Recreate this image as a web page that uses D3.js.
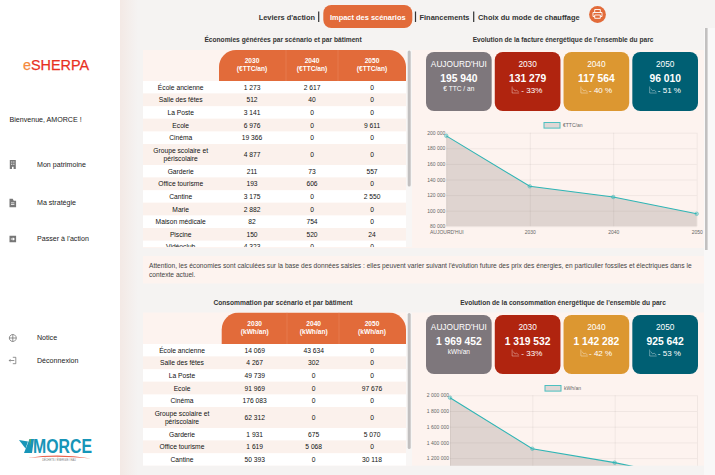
<!DOCTYPE html>
<html lang="fr">
<head>
<meta charset="utf-8">
<title>eSHERPA - Impact des scénarios</title>
<script src="https://d3js.org/d3.v7.min.js"></script>
<style>
  html, body { margin: 0; padding: 0; background: #f5f3f2; overflow: hidden; }
  svg { display: block; font-family: "Liberation Sans", Arial, sans-serif; }
  .axis path { display: none; }
  .axis text { font-family: "Liberation Sans", Arial, sans-serif; font-size: 5px; fill: #666; }
  .axis line { stroke: #000; stroke-opacity: 0.08; stroke-width: 0.7; }
</style>
</head>
<body>
<script>
const buildingsCost = ["École ancienne", "Salle des fêtes", "La Poste", "Ecole", "Cinéma", "Groupe scolaire et|périscolaire", "Garderie", "Office tourisme", "Cantine", "Marie", "Maison médicale", "Piscine", "Vidéoclub"];
const cost2030 = [1273, 512, 3141, 6976, 19366, 4877, 211, 193, 3175, 2882, 82, 150, 4323];
const cost2040 = [2617, 40, 0, 0, 0, 0, 73, 606, 0, 0, 754, 520, 0];
const cost2050 = [0, 0, 0, 9611, 0, 0, 557, 0, 2550, 0, 0, 24, 0];

const buildingsEnergy = ["École ancienne", "Salle des fêtes", "La Poste", "Ecole", "Cinéma", "Groupe scolaire et|périscolaire", "Garderie", "Office tourisme", "Cantine"];
const energy2030 = [14069, 4267, 49739, 91969, 176083, 62312, 1931, 1619, 50393];
const energy2040 = [43634, 302, 0, 0, 0, 0, 675, 5068, 0];
const energy2050 = [0, 0, 0, 97676, 0, 0, 5070, 0, 30118];

// Line chart series.
const periods = ["AUJOURD'HUI", "2030", "2040", "2050"];
const costSeries = [195940, 131279, 117564, 96010];
const energySeries = [1969452, 1319532, 1142282, 925642];

// Summary cards.
const cardColors = ["#7e777c", "#b0240f", "#dc9731", "#005f73"];
const costDrops = ["€ TTC / an", "- 33%", "- 40 %", "- 51 %"];
const energyDrops = ["kWh/an", "- 33%", "- 42 %", "- 53 %"];

const orange = "#e26b3a";
const pink = "#fdf3ef";
const teal = "#2fb5b5";
const fr = d3.formatLocale({ decimal: ",", thousands: " ", grouping: [3], currency: ["", "€"] });
const num = fr.format(",d");

const svg = d3.select("body").append("svg").attr("width", 715).attr("height", 475);

// Page background and sidebar.
const grad = svg.append("defs").append("linearGradient").attr("id", "side");
grad.append("stop").attr("offset", 0).attr("stop-color", "#f3e9e5");
grad.append("stop").attr("offset", 1).attr("stop-color", "#f5f3f2");
svg.append("rect").attr("width", 715).attr("height", 475).attr("fill", "#f5f3f2");
svg.append("rect").attr("x", 120).attr("width", 18).attr("height", 475).attr("fill", "url(#side)");
svg.append("rect").attr("width", 120).attr("height", 475).attr("fill", "#fff");
svg.append("rect").attr("x", 704).attr("y", 28).attr("width", 11).attr("height", 447).attr("fill", "#f9f8f8");
svg.append("rect").attr("x", 705).attr("y", 28).attr("width", 2.6).attr("height", 222).attr("fill", "#c2c0c0");

function label(g, x, y, txt, size, color, weight, anchor) {
  return g.append("text").attr("x", x).attr("y", y).text(txt)
    .attr("font-size", size).attr("fill", color)
    .attr("font-weight", weight || "normal").attr("text-anchor", anchor || "start");
}

// Sidebar content.
const side = svg.append("g");
const logo = label(side, 23, 70, "", 14.4, "#e8301f");
logo.attr("stroke", "#e8301f").attr("stroke-width", 0.25);
logo.append("tspan").attr("fill", "#f58a3c").attr("stroke", "#f58a3c").text("e");
logo.append("tspan").text("SHERPA");
label(side, 9.5, 121.5, "Bienvenue, AMORCE !", 7.1, "#222");

const menuLabels = ["Mon patrimoine", "Ma stratégie", "Passer à l'action", "Notice", "Déconnexion"];
const menuY = [164.5, 203, 239, 338, 360.5];
const menuIcons = [
  "M-3-4.500h6v9h-6z M-1.600-3h1.100v1.100h-1.100z M.5-3h1.100v1.100h-1.100z M-1.600-.8h1.100v1.100h-1.100z M.5-.8h1.100v1.100h-1.100z M-.8 2.300h1.600v2.200h-1.600z",
  "M-3.300-4.300h3.200l1 2h2.400v6.600h-6.600z M-1.800-.5h3.400v.8h-3.400z M-1.800 1.300h3.400v.8h-3.400z",
  "M-3.300-3.300h6.600v6.600h-6.600z M-2 -.4h2v-1.300l2.200 1.700-2.200 1.700v-1.300h-2z",
  "M0-3.500a3.500 3.500 0 1 0 .01 0z M-3.500 0h7 M0-3.500v7",
  "M0-3.200h3v6.400h-3 M1.500 0h-5 M-2.300-1.300l-1.300 1.300 1.300 1.300"
];
menuLabels.forEach((m, i) => {
  label(side, 37, menuY[i] + 2.4, m, 7.1, "#222");
  side.append("path").attr("d", menuIcons[i])
    .attr("transform", `translate(12.8,${menuY[i]})`)
    .attr("fill", i < 3 ? "#777" : "none").attr("fill-rule", "evenodd")
    .attr("stroke", i < 3 ? "none" : "#666").attr("stroke-width", 0.7);
});

// Partner logo.
label(side, 33, 453.3, "MORCE", 19.5, "#1795b8", "bold").attr("textLength", 59).attr("lengthAdjust", "spacingAndGlyphs");
side.append("path").attr("d", "M19 440l9 1.500-2.500 7z").attr("fill", "#1795b8");
side.append("path").attr("d", "M24 453l5.500-14 4.500 0-2 14z").attr("fill", "#1795b8");
side.append("path").attr("d", "M29.500 439l1.500 0-1 7z").attr("fill", "#6fb04a");
side.append("path").attr("d", "M28 458q30-5 63 .5q-32-3-63-.5z").attr("fill", "#e9604b");
label(side, 59, 460.8, "DÉCHETS / ÉNERGIE / EAU", 2.6, "#777", "normal", "middle");

// Top navigation.
const nav = svg.append("g");
label(nav, 258.7, 19.6, "Leviers d'action", 7.45, "#333", "bold");
nav.append("rect").attr("x", 323.3).attr("y", 5).attr("width", 89).attr("height", 23).attr("rx", 8).attr("fill", orange);
label(nav, 367.8, 19.6, "Impact des scénarios", 7.45, "#fff", "bold", "middle");
label(nav, 419.5, 19.6, "Financements", 7.45, "#333", "bold");
label(nav, 478, 19.6, "Choix du mode de chauffage", 7.45, "#333", "bold");
[318.7, 415.5, 473.7].forEach(x => nav.append("rect").attr("x", x - 0.6).attr("y", 11.5).attr("width", 1.2).attr("height", 10.5).attr("fill", "#333"));
nav.append("circle").attr("cx", 597.5).attr("cy", 14.5).attr("r", 8.4).attr("fill", orange);
nav.append("path").attr("d", "M594.700 12.500v-3h5.600v3 M593 12.500h9v4h-1.700 M594.700 16.500h-1.700v-4 M594.700 15h5.600v3.300h-5.600z")
  .attr("fill", "none").attr("stroke", "#fff").attr("stroke-width", 0.9);

// Section panels.
svg.append("rect").attr("x", 143).attr("y", 50).attr("width", 561).attr("height", 198).attr("fill", pink);
svg.append("rect").attr("x", 143).attr("y", 256).attr("width", 561).attr("height", 27.5).attr("fill", pink);
svg.append("rect").attr("x", 143).attr("y", 312.5).attr("width", 561).attr("height", 153.2).attr("fill", pink);

label(svg, 149, 268, "Attention, les économies sont calculées sur la base des données saisies : elles peuvent varier suivant l'évolution future des prix des énergies, en particulier fossiles et électriques dans le", 6.64, "#444");
label(svg, 149, 276.5, "contexte actuel.", 6.64, "#444");

// Draws one scenario table. Rows are clipped at the panel bottom as in a scrolling div.
function drawTable(opts) {
  const g = svg.append("g").attr("clip-path", `url(#${opts.id})`);
  svg.select("defs").append("clipPath").attr("id", opts.id).append("rect")
    .attr("x", 143).attr("y", opts.top).attr("width", 263).attr("height", opts.bottom - opts.top);

  const x0 = opts.colX[0], x3 = opts.colX[3], r = 17, h = opts.head;
  g.append("path").attr("fill", orange)
    .attr("d", `M${x0} ${opts.top + h}V${opts.top + r}a${r} ${r} 0 0 1 ${r} -${r}H${x3 - r}a${r} ${r} 0 0 1 ${r} ${r}V${opts.top + h}z`);
  [opts.colX[1], opts.colX[2]].forEach(x => g.append("line")
    .attr("x1", x).attr("x2", x).attr("y1", opts.top).attr("y2", opts.top + h)
    .attr("stroke", "#e98a62").attr("stroke-width", 0.5));

  ["2030", "2040", "2050"].forEach((year, i) => {
    const cx = opts.centers[i];
    label(g, cx, opts.top + 13, year, 6.6, "#fff", "bold", "middle");
    label(g, cx, opts.top + 21.2, opts.unit, 6.6, "#fff", "bold", "middle");
  });

  let y = opts.top + h;
  opts.names.forEach((name, i) => {
    const lines = name.split("|");
    const rowH = lines.length > 1 ? 21 : 12.6;
    g.append("rect").attr("x", 143).attr("y", y).attr("width", 263).attr("height", rowH)
      .attr("fill", i % 2 === 0 ? "#fff" : "#fbf1ec");
    const mid = y + rowH / 2 + 2.4;
    lines.forEach((t, k) => label(g, opts.nameX, mid + (k - (lines.length - 1) / 2) * 8, t, 6.7, "#111", "normal", "middle"));
    opts.values.forEach((col, c) => {
      label(g, opts.centers[c], mid, num(col[i]), 6.7, "#111", "normal", "middle");
    });
    y += rowH;
  });

  svg.append("rect").attr("x", 406).attr("y", opts.top).attr("width", 6).attr("height", opts.bottom - opts.top).attr("fill", "#f8f6f5");
  svg.append("rect").attr("x", 407.7).attr("y", opts.top + 0.5).attr("width", 3).attr("height", opts.barH).attr("rx", 1.5).attr("fill", "#c2c0c0");
}

label(svg, 283, 41.8, "Économies générées par scénario et par bâtiment", 6.65, "#333", "bold", "middle");
drawTable({
  id: "clipCost", top: 50, bottom: 247, head: 31, unit: "(€TTC/an)",
  colX: [219, 286, 338, 406],
  centers: [252, 312, 372], nameX: 180.7, names: buildingsCost,
  values: [cost2030, cost2040, cost2050], barH: 136
});

label(svg, 283, 305, "Consommation par scénario et par bâtiment", 6.65, "#333", "bold", "middle");
drawTable({
  id: "clipEnergy", top: 312.5, bottom: 465.7, head: 31.5, unit: "(kWh/an)",
  colX: [221.7, 287, 339, 406],
  centers: [254.7, 313.7, 372], nameX: 182, names: buildingsEnergy,
  values: [energy2030, energy2040, energy2050], barH: 136
});

// Summary cards row.
function drawCards(top, series, drops) {
  const cardX = d3.scaleBand().domain(periods).range([426, 698]).paddingInner(0.045);
  const g = svg.append("g");
  periods.forEach((p, i) => {
    const x = cardX(p), w = cardX.bandwidth(), cx = x + w / 2;
    g.append("rect").attr("x", x).attr("y", top).attr("width", w).attr("height", 59).attr("rx", 8).attr("fill", cardColors[i]);
    label(g, cx, top + 14.5, p, 8.3, "#fff", "normal", "middle");
    label(g, cx, top + 30, num(series[i]), 10.3, "#fff", "bold", "middle");
    if (i === 0) {
      label(g, cx, top + 38.8, drops[i], 6.6, "#fff", "normal", "middle");
    } else {
      label(g, cx + 4.2, top + 40.5, drops[i], 8, "#fff", "normal", "middle");
      const ix = cx - 15.5, iy = top + 34.5;
      g.append("path").attr("d", `M${ix} ${iy}v6.500h7 M${ix + 1} ${iy + 2}l2 2.500 1.500-1 2 2`)
        .attr("fill", "none").attr("stroke", "#fff").attr("stroke-opacity", 0.75).attr("stroke-width", 0.5);
    }
  });
}

// Area + line evolution chart. The axis bottom may sit under the clip, then its labels are left out.
function drawChart(opts) {
  const x = d3.scalePoint().domain(periods).range(opts.xRange);
  const y = d3.scaleLinear().domain(opts.domain).range(opts.yRange);
  svg.select("defs").append("clipPath").attr("id", opts.id).append("rect")
    .attr("x", 420).attr("y", 115).attr("width", 285).attr("height", opts.clipY - 115);
  const g = svg.append("g").attr("clip-path", `url(#${opts.id})`);

  const visibleTicks = d3.range(opts.domain[0], opts.domain[1] + 1, opts.step).filter(v => y(v) < opts.clipY);
  g.append("g").attr("class", "axis")
    .attr("transform", `translate(${opts.xRange[0]},0)`)
    .call(d3.axisLeft(y).tickValues(visibleTicks)
      .tickFormat(num).tickSize(-(opts.xRange[1] - opts.xRange[0])).tickPadding(1));
  const xAxis = g.append("g").attr("class", "axis")
    .attr("transform", `translate(0,${opts.yRange[0]})`)
    .call(d3.axisBottom(x).tickSize(-(opts.yRange[0] - opts.yRange[1])).tickPadding(4));
  if (opts.yRange[0] > opts.clipY) xAxis.selectAll("text").remove();

  const pts = periods.map((p, i) => ({ p, v: opts.series[i] }));
  g.append("path").datum(pts).attr("fill", "#6b5b57").attr("fill-opacity", 0.2)
    .attr("d", d3.area().x(d => x(d.p)).y0(opts.yRange[0]).y1(d => y(d.v)));
  g.append("path").datum(pts).attr("fill", "none").attr("stroke", teal).attr("stroke-width", 1.1)
    .attr("d", d3.line().x(d => x(d.p)).y(d => y(d.v)));
  g.selectAll("circle").data(pts).join("circle")
    .attr("cx", d => x(d.p)).attr("cy", d => y(d.v)).attr("r", 1.8)
    .attr("fill", teal).attr("fill-opacity", 0.35).attr("stroke", teal).attr("stroke-opacity", 0.6).attr("stroke-width", 0.7);

  svg.append("rect").attr("x", opts.legendX).attr("y", opts.legendY - 2.8).attr("width", 16).attr("height", 5.6)
    .attr("fill", "#e0d7d5").attr("stroke", "#4cc0c0").attr("stroke-width", 1);
  label(svg, opts.legendX + 19, opts.legendY + 1.7, opts.unit, 5, "#666");
}

label(svg, 563, 41.8, "Evolution de la facture énergétique de l'ensemble du parc", 6.6, "#333", "bold", "middle");
drawCards(52, costSeries, costDrops);
drawChart({
  id: "clipCostChart", series: costSeries, domain: [80000, 200000], step: 20000,
  xRange: [446.3, 696.7], yRange: [226.3, 132.7], clipY: 248,
  legendX: 544, legendY: 125.3, unit: "€TTC/an"
});

label(svg, 563, 305, "Evolution de la consommation énergétique de l'ensemble du parc", 6.6, "#333", "bold", "middle");
drawCards(315, energySeries, energyDrops);
drawChart({
  id: "clipEnergyChart", series: energySeries, domain: [800000, 2000000], step: 200000,
  xRange: [450, 697], yRange: [489.5, 395.3], clipY: 465.7,
  legendX: 545, legendY: 388.3, unit: "kWh/an"
});
</script>
</body>
</html>
